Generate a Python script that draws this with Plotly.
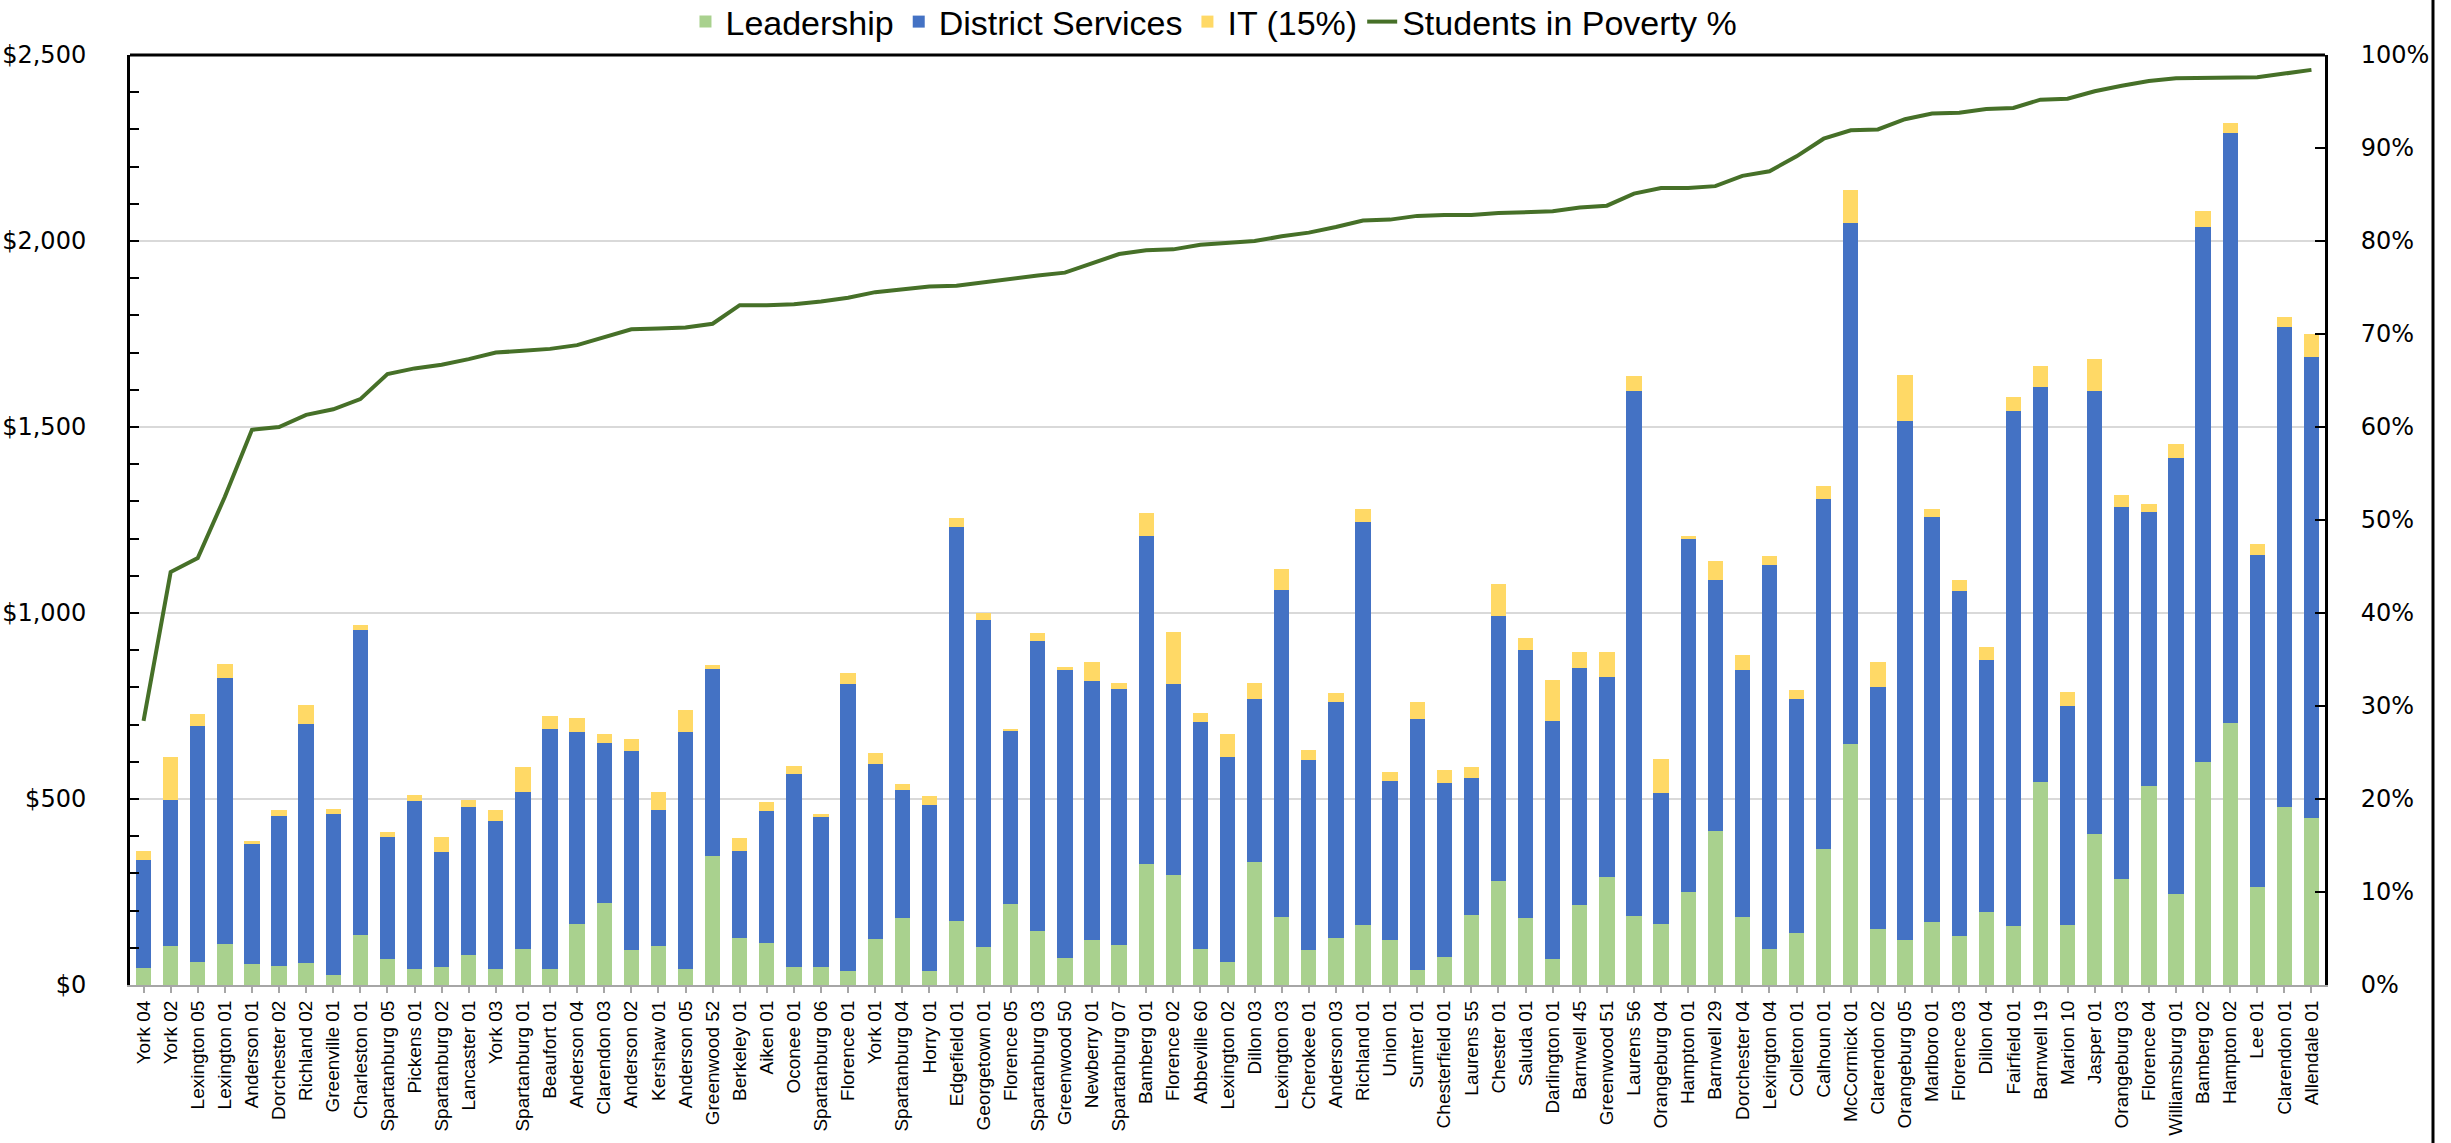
import plotly.graph_objects as go

districts = [
    "York 04", "York 02", "Lexington 05", "Lexington 01", "Anderson 01", "Dorchester 02",
    "Richland 02", "Greenville 01", "Charleston 01", "Spartanburg 05", "Pickens 01",
    "Spartanburg 02", "Lancaster 01", "York 03", "Spartanburg 01", "Beaufort 01",
    "Anderson 04", "Clarendon 03", "Anderson 02", "Kershaw 01", "Anderson 05",
    "Greenwood 52", "Berkeley 01", "Aiken 01", "Oconee 01", "Spartanburg 06",
    "Florence 01", "York 01", "Spartanburg 04", "Horry 01", "Edgefield 01",
    "Georgetown 01", "Florence 05", "Spartanburg 03", "Greenwood 50", "Newberry 01",
    "Spartanburg 07", "Bamberg 01", "Florence 02", "Abbeville 60", "Lexington 02",
    "Dillon 03", "Lexington 03", "Cherokee 01", "Anderson 03", "Richland 01",
    "Union 01", "Sumter 01", "Chesterfield 01", "Laurens 55", "Chester 01",
    "Saluda 01", "Darlington 01", "Barnwell 45", "Greenwood 51", "Laurens 56",
    "Orangeburg 04", "Hampton 01", "Barnwell 29", "Dorchester 04", "Lexington 04",
    "Colleton 01", "Calhoun 01", "McCormick 01", "Clarendon 02", "Orangeburg 05",
    "Marlboro 01", "Florence 03", "Dillon 04", "Fairfield 01", "Barnwell 19",
    "Marion 10", "Jasper 01", "Orangeburg 03", "Florence 04", "Williamsburg 01",
    "Bamberg 02", "Hampton 02", "Lee 01", "Clarendon 01", "Allendale 01",
]

leadership = [
    47, 106, 62, 110, 56, 52, 59, 28, 134, 69,
    44, 49, 82, 42, 96, 42, 163, 221, 93, 106,
    42, 348, 127, 114, 49, 49, 38, 125, 179, 38,
    172, 103, 217, 145, 72, 121, 107, 326, 297, 96,
    63, 330, 183, 93, 127, 162, 120, 40, 75, 189,
    279, 179, 71, 216, 289, 186, 165, 250, 414, 182,
    97, 141, 366, 647, 150, 121, 169, 131, 196, 158,
    545, 162, 405, 286, 535, 245, 599, 705, 264, 478, 448,
]

district_services = [
    288, 392, 633, 716, 322, 402, 643, 432, 819, 330,
    451, 309, 396, 398, 424, 646, 518, 430, 537, 365,
    639, 502, 234, 355, 519, 402, 770, 470, 344, 447,
    1058, 877, 467, 780, 774, 697, 688, 880, 511, 612,
    549, 440, 879, 512, 633, 1082, 428, 674, 468, 367,
    712, 721, 640, 637, 539, 1411, 350, 949, 675, 666,
    1031, 629, 941, 1402, 651, 1395, 1090, 927, 678, 1384,
    1062, 589, 1192, 1000, 736, 1173, 1439, 1584, 891, 1290, 1240,
]

it_15 = [
    26, 114, 33, 36, 8, 17, 51, 13, 14, 13,
    16, 41, 18, 31, 65, 34, 38, 23, 31, 49,
    58, 9, 35, 23, 20, 10, 31, 28, 17, 24,
    25, 21, 4, 20, 10, 49, 16, 62, 142, 24,
    62, 41, 55, 27, 26, 35, 25, 46, 34, 30,
    88, 34, 110, 42, 68, 39, 92, 7, 52, 38,
    24, 24, 34, 89, 68, 123, 20, 31, 34, 39,
    56, 36, 86, 32, 23, 35, 43, 29, 30, 27, 61,
]

poverty_pct = [
    28.4, 44.4, 45.9, 52.5, 59.7, 60.0, 61.3, 61.9, 63.0, 65.7,
    66.3, 66.7, 67.3, 68.0, 68.2, 68.4, 68.8, 69.7, 70.5, 70.6,
    70.7, 71.1, 73.1, 73.1, 73.2, 73.5, 73.9, 74.5, 74.8, 75.1,
    75.2, 75.6, 75.9, 76.3, 76.6, 77.6, 78.6, 79.0, 79.1, 79.6,
    79.8, 80.0, 80.5, 80.9, 81.5, 82.2, 82.3, 82.7, 82.8, 82.8,
    83.0, 83.1, 83.2, 83.6, 83.8, 85.1, 85.7, 85.7, 85.9, 87.0,
    87.5, 89.1, 91.0, 91.9, 92.0, 93.1, 93.7, 93.8, 94.2, 94.3,
    95.2, 95.3, 96.1, 96.7, 97.2, 97.5, 97.5, 97.6, 97.6, 98.0, 98.4,
]

left_ticks = [0, 500, 1000, 1500, 2000, 2500]
left_tick_labels = ["$0", "$500", "$1,000", "$1,500", "$2,000", "$2,500"]

GREEN = "#A9D18E"
BLUE = "#4472C4"
YELLOW = "#FFD966"
LINE = "#467028"

fig = go.Figure()
fig.add_trace(go.Bar(x=districts, y=leadership, name="Leadership",
                     marker=dict(color=GREEN, line=dict(width=0))))
fig.add_trace(go.Bar(x=districts, y=district_services, name="District Services",
                     marker=dict(color=BLUE, line=dict(width=0))))
fig.add_trace(go.Bar(x=districts, y=it_15, name="IT (15%)",
                     marker=dict(color=YELLOW, line=dict(width=0))))
fig.add_trace(go.Scatter(x=districts, y=[p / 100 for p in poverty_pct],
                         name="Students in Poverty %", mode="lines",
                         line=dict(color=LINE, width=4), yaxis="y2"))

tick_font = dict(family="DejaVu Sans", size=24, color="black")

fig.update_layout(
    width=2451, height=1143,
    margin=dict(l=130, r=126, t=55, b=158, autoexpand=False),
    paper_bgcolor="white", plot_bgcolor="white",
    barmode="stack", bargap=0.435,
    showlegend=True,
    legend=dict(orientation="h", xref="container", yref="container",
                x=0.4953, xanchor="center", y=1 - 22 / 1143, yanchor="middle",
                traceorder="normal", itemwidth=30,
                font=dict(family="Liberation Sans", size=34, color="black")),
    xaxis=dict(type="category", tickangle=-90, automargin=False,
               tickfont=dict(family="Liberation Sans", size=19, color="black"),
               showline=True, linecolor="#A6A6A6", linewidth=2,
               ticks="outside", ticklen=6, tickcolor="#A6A6A6", tickwidth=2,
               showgrid=False),
    yaxis=dict(range=[0, 2500], tickvals=left_ticks, ticktext=left_tick_labels,
               automargin=False,
               tickfont=tick_font, showgrid=True, gridcolor="#D9D9D9", gridwidth=2,
               showline=True, linecolor="black", linewidth=3,
               ticks="inside", ticklen=9, tickcolor="black", tickwidth=2,
               minor=dict(dtick=100, ticks="inside", ticklen=9, tickcolor="black",
                          tickwidth=2, showgrid=False),
               ticklabelstandoff=36, zeroline=False),
    yaxis2=dict(range=[0, 1], dtick=0.1, tickformat=".0%", overlaying="y", side="right",
                automargin=False,
                tickfont=tick_font, showgrid=False,
                showline=True, linecolor="black", linewidth=3,
                ticks="inside", ticklen=10, tickcolor="black", tickwidth=2,
                ticklabelstandoff=28, zeroline=False),
    shapes=[
        dict(type="line", xref="paper", yref="paper", x0=0, x1=1, y0=1, y1=1,
             line=dict(color="black", width=3)),
        dict(type="line", xref="paper", yref="paper", x0=1.0492, x1=1.0492,
             y0=-0.17, y1=1.06, line=dict(color="black", width=3)),
    ],
)

fig.write_html("out.html", config={"displayModeBar": False},
               post_script="document.body.style.margin='0px';")
